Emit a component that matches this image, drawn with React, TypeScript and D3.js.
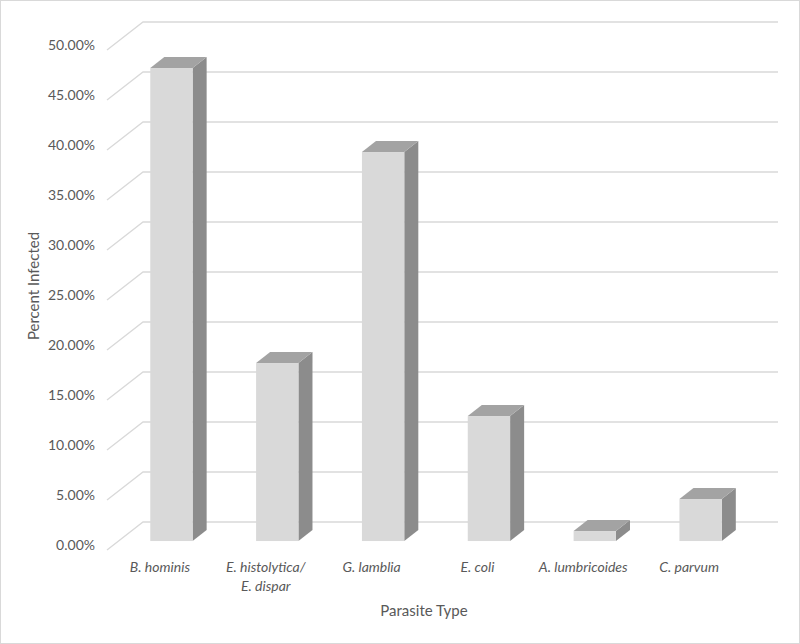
import * as d3 from "d3";
import { useEffect, useRef } from "react";

const parasites = [
  ["B. hominis"],
  ["E. histolytica/", "E. dispar"],
  ["G. lamblia"],
  ["E. coli"],
  ["A. lumbricoides"],
  ["C. parvum"],
];
const percentInfected = [0.473, 0.178, 0.389, 0.125, 0.01, 0.042];
const yTicks = [0, 0.05, 0.1, 0.15, 0.2, 0.25, 0.3, 0.35, 0.4, 0.45, 0.5];

function drawChart(svgElement) {
  const width = 800;
  const height = 644;
  const floor = { left: 107, right: 742, front: 550, back: 522 };
  const depth = { dx: 36, dy: -28 };
  const barFront = 0.32;
  const barDepth = 0.39;
  const font = "Lato, 'Open Sans', sans-serif";
  const textColor = "#595959";

  const svg = d3.select(svgElement);
  svg.selectAll("*").remove();
  svg.attr("width", width).attr("height", height).attr("viewBox", `0 0 ${width} ${height}`);

  svg
    .append("rect")
    .attr("x", 0.5)
    .attr("y", 0.5)
    .attr("width", width - 1)
    .attr("height", height - 1)
    .attr("fill", "#fff")
    .attr("stroke", "#d9d9d9");

  const keys = parasites.map((p) => p.join(" "));
  const x = d3.scaleBand().domain(keys).range([floor.left, floor.right]).padding(0);

  // vertical scale measured on the front edge of the floor
  const y = d3.scaleLinear().domain([0, 0.5]).range([floor.front, floor.front - 500]);

  // gridlines: diagonal on the side wall, horizontal on the back wall
  const grid = svg.append("g").attr("stroke", "#d9d9d9").attr("stroke-width", 1.3).attr("fill", "none");
  yTicks.forEach((t) => {
    const fy = y(t);
    grid
      .append("path")
      .attr("d", `M${floor.left},${fy}L${floor.left + depth.dx},${fy + depth.dy}H${floor.right + depth.dx}`);
  });

  svg
    .append("g")
    .selectAll("text")
    .data(yTicks)
    .join("text")
    .attr("x", 95)
    .attr("y", (t) => y(t) - 4)
    .attr("text-anchor", "end")
    .attr("dominant-baseline", "middle")
    .attr("font-family", font)
    .attr("font-size", 14)
    .attr("fill", textColor)
    .text((t) => d3.format(".2%")(t));

  const barW = x.bandwidth() * 0.4;
  const ox = depth.dx * barFront;
  const oy = depth.dy * barFront;
  const bdx = depth.dx * barDepth;
  const bdy = depth.dy * barDepth;

  const bars = svg
    .append("g")
    .selectAll("g")
    .data(percentInfected.map((v, i) => ({ key: keys[i], value: v })))
    .join("g");

  bars.each(function (d) {
    const g = d3.select(this);
    const x0 = x(d.key) + x.bandwidth() / 2 - barW / 2 + ox;
    const x1 = x0 + barW;
    const yb = y(0) + oy;
    const yt = y(d.value) + oy;
    g.append("path")
      .attr("d", `M${x1},${yb}L${x1 + bdx},${yb + bdy}V${yt + bdy}L${x1},${yt}Z`)
      .attr("fill", "#8c8c8c");
    g.append("path")
      .attr("d", `M${x0},${yt}L${x0 + bdx},${yt + bdy}H${x1 + bdx}L${x1},${yt}Z`)
      .attr("fill", "#a3a3a3");
    g.append("rect")
      .attr("x", x0)
      .attr("y", yt)
      .attr("width", barW)
      .attr("height", yb - yt)
      .attr("fill", "#d9d9d9");
  });

  const labels = svg
    .append("g")
    .selectAll("text")
    .data(parasites)
    .join("text")
    .attr("x", (p) => x(p.join(" ")) + x.bandwidth() / 2)
    .attr("y", 568)
    .attr("text-anchor", "middle")
    .attr("dominant-baseline", "middle")
    .attr("font-family", font)
    .attr("font-style", "italic")
    .attr("font-size", 14)
    .attr("fill", textColor);

  labels
    .selectAll("tspan")
    .data((p) => p)
    .join("tspan")
    .attr("x", function () {
      return d3.select(this.parentNode).attr("x");
    })
    .attr("dy", (_, i) => (i === 0 ? 0 : 19))
    .text((s) => s);

  svg
    .append("text")
    .attr("x", 424)
    .attr("y", 612)
    .attr("text-anchor", "middle")
    .attr("dominant-baseline", "middle")
    .attr("font-family", font)
    .attr("font-size", 15)
    .attr("fill", textColor)
    .text("Parasite Type");

  svg
    .append("text")
    .attr("transform", "translate(35,286) rotate(-90)")
    .attr("text-anchor", "middle")
    .attr("dominant-baseline", "middle")
    .attr("font-family", font)
    .attr("font-size", 15)
    .attr("fill", textColor)
    .text("Percent Infected");
}

export default function App() {
  const svgRef = useRef(null);

  useEffect(() => {
    drawChart(svgRef.current);
  }, []);

  return (
    <svg
      ref={svgRef}
      style={{ position: "absolute", left: 0, top: 0, display: "block" }}
      role="img"
      aria-label="Percent infected by parasite type"
    />
  );
}
